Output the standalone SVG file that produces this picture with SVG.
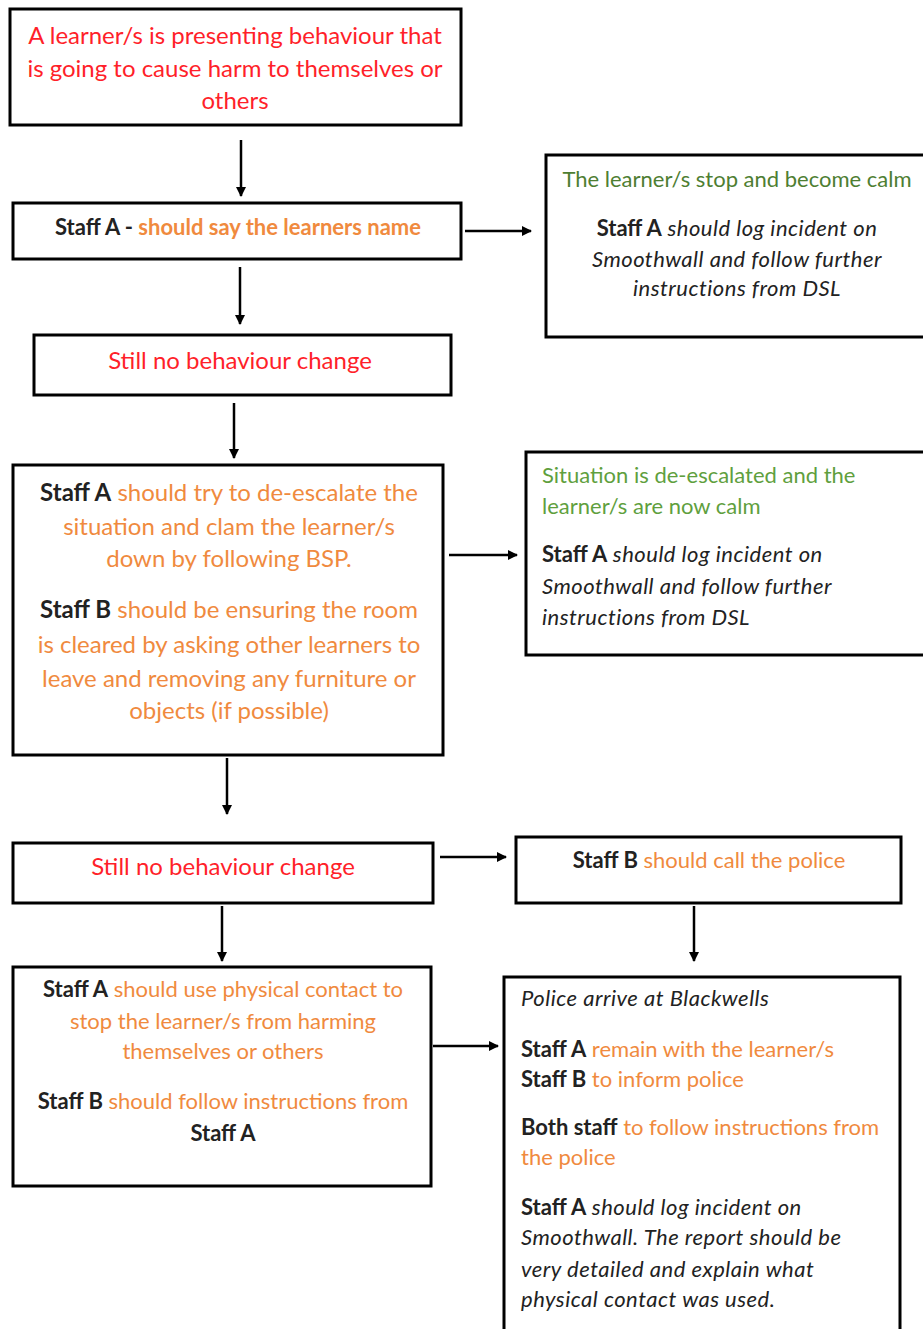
<svg xmlns="http://www.w3.org/2000/svg" width="923" height="1329" viewBox="0 0 923 1329">
<defs>
<marker id="ah" markerWidth="10" markerHeight="10" refX="9" refY="5" orient="auto" markerUnits="userSpaceOnUse">
<path d="M0,0 L10,5 L0,10 z" fill="#000"/>
</marker>
<style>
.box{fill:#fff;stroke:#000;stroke-width:3}
.c{stroke:#000;stroke-width:2.5;fill:none;marker-end:url(#ah)}
text{font-family:Lato,"Liberation Sans",sans-serif;font-size:24px;fill:#222}
.mid{text-anchor:middle}
.red{fill:#ff1f2a}
.or{fill:#f08a3e}
.gd{fill:#4e7e32}
.gl{fill:#5f9f3e}
.b{font-weight:bold}
.i{font-style:italic;letter-spacing:0.5px}
.s20{font-size:22px}
</style>
</defs>
<rect width="923" height="1329" fill="#fff"/>
<g id="connectors">
<line class="c" x1="241" y1="140" x2="241" y2="196"/>
<line class="c" x1="465" y1="231" x2="531" y2="231"/>
<line class="c" x1="240" y1="267" x2="240" y2="324"/>
<line class="c" x1="234" y1="403" x2="234" y2="458"/>
<line class="c" x1="449" y1="555" x2="517" y2="555"/>
<line class="c" x1="227" y1="758" x2="227" y2="814"/>
<line class="c" x1="440" y1="857" x2="506" y2="857"/>
<line class="c" x1="694" y1="906" x2="694" y2="961"/>
<line class="c" x1="222" y1="906" x2="222" y2="961"/>
<line class="c" x1="433" y1="1046" x2="498" y2="1046"/>
</g>
<g id="n1">
<rect class="box" x="10" y="9" width="451" height="116"/>
<text class="mid red" x="235" y="44">A learner/s is presenting behaviour that</text>
<text class="mid red" x="235" y="77">is going to cause harm to themselves or</text>
<text class="mid red" x="235" y="109">others</text>
</g>
<g id="n2">
<rect class="box" x="13" y="203" width="448" height="56"/>
<text class="mid b s20" x="238" y="235">Staff A - <tspan class="or">should say the learners name</tspan></text>
</g>
<g id="n3">
<rect class="box" x="546" y="155" width="390" height="182"/>
<text class="mid gd s20" x="737" y="187">The learner/s stop and become calm</text>
<text class="mid s20" x="737" y="236"><tspan class="b">Staff A</tspan> <tspan class="i">should log incident on</tspan></text>
<text class="mid s20 i" x="737" y="267">Smoothwall and follow further</text>
<text class="mid s20 i" x="737" y="296">instructions from DSL</text>
</g>
<g id="n4">
<rect class="box" x="34" y="335" width="417" height="60"/>
<text class="mid red" x="240" y="369">Still no behaviour change</text>
</g>
<g id="n5">
<rect class="box" x="13" y="465" width="430" height="290"/>
<text class="mid or" x="229" y="501"><tspan class="b" fill="#222">Staff A</tspan> should try to de-escalate the</text>
<text class="mid or" x="229" y="535">situation and clam the learner/s</text>
<text class="mid or" x="229" y="567">down by following BSP.</text>
<text class="mid or" x="229" y="618"><tspan class="b" fill="#222">Staff B</tspan> should be ensuring the room</text>
<text class="mid or" x="229" y="653">is cleared by asking other learners to</text>
<text class="mid or" x="229" y="687">leave and removing any furniture or</text>
<text class="mid or" x="229" y="719">objects (if possible)</text>
</g>
<g id="n6">
<rect class="box" x="526" y="452" width="410" height="203"/>
<text class="gl s20" x="542" y="483">Situation is de-escalated and the</text>
<text class="gl s20" x="542" y="514">learner/s are now calm</text>
<text class="s20" x="542" y="562"><tspan class="b">Staff A</tspan> <tspan class="i">should log incident on</tspan></text>
<text class="s20 i" x="542" y="594">Smoothwall and follow further</text>
<text class="s20 i" x="542" y="625">instructions from DSL</text>
</g>
<g id="n7">
<rect class="box" x="13" y="843" width="420" height="60"/>
<text class="mid red" x="223" y="875">Still no behaviour change</text>
</g>
<g id="n8">
<rect class="box" x="516" y="837" width="385" height="66"/>
<text class="mid s20" x="709" y="868"><tspan class="b">Staff B</tspan> <tspan class="or">should call the police</tspan></text>
</g>
<g id="n9">
<rect class="box" x="13" y="967" width="418" height="219"/>
<text class="mid or s20" x="223" y="997"><tspan class="b" fill="#222">Staff A</tspan> should use physical contact to</text>
<text class="mid or s20" x="223" y="1029">stop the learner/s from harming</text>
<text class="mid or s20" x="223" y="1059">themselves or others</text>
<text class="mid or s20" x="223" y="1109"><tspan class="b" fill="#222">Staff B</tspan> should follow instructions from</text>
<text class="mid b s20" x="223" y="1141">Staff A</text>
</g>
<g id="n10">
<rect class="box" x="504" y="977" width="396" height="370"/>
<text class="s20 i" x="521" y="1006">Police arrive at Blackwells</text>
<text class="s20" x="521" y="1057"><tspan class="b">Staff A</tspan> <tspan class="or">remain with the learner/s</tspan></text>
<text class="s20" x="521" y="1087"><tspan class="b">Staff B</tspan> <tspan class="or">to inform police</tspan></text>
<text class="s20" x="521" y="1135"><tspan class="b">Both staff</tspan> <tspan class="or">to follow instructions from</tspan></text>
<text class="s20 or" x="521" y="1165">the police</text>
<text class="s20" x="521" y="1215"><tspan class="b">Staff A</tspan> <tspan class="i">should log incident on</tspan></text>
<text class="s20 i" x="521" y="1245">Smoothwall. The report should be</text>
<text class="s20 i" x="521" y="1277">very detailed and explain what</text>
<text class="s20 i" x="521" y="1307">physical contact was used.</text>
</g>
</svg>
